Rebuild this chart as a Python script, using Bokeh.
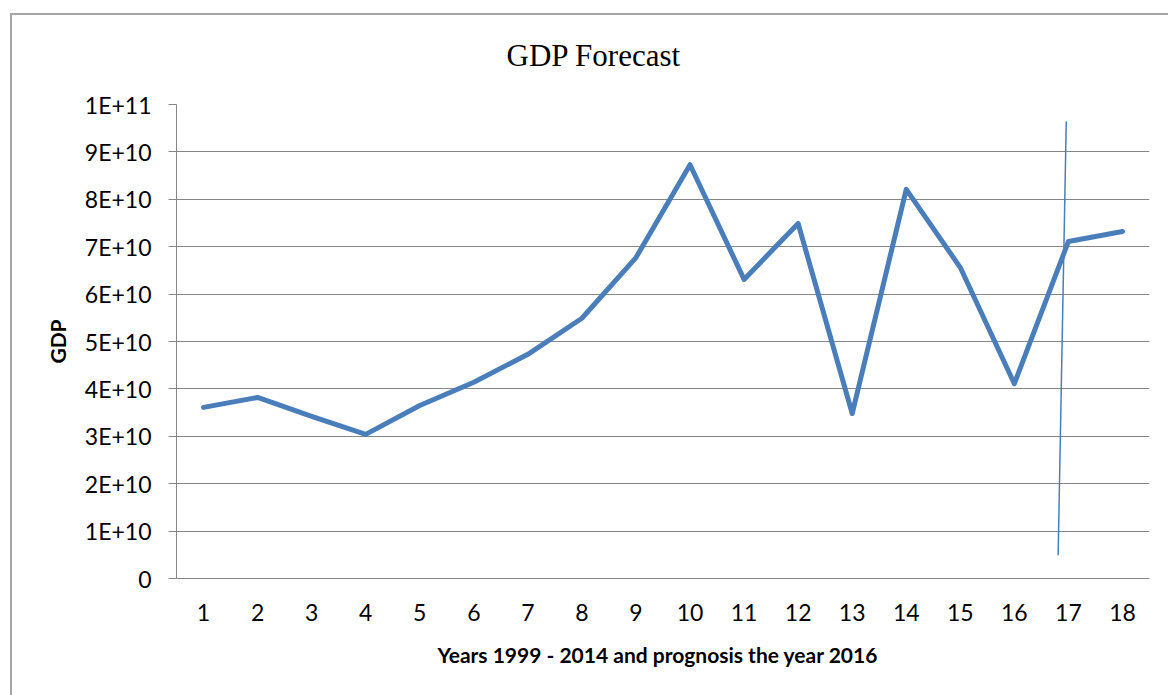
from bokeh.plotting import figure
from bokeh.models import FixedTicker, Range1d, ColumnDataSource
from bokeh.embed import file_html
from bokeh.resources import INLINE

# ---- data ----
years_idx = list(range(1, 19))
gdp = [3.61e10, 3.82e10, 3.42e10, 3.04e10, 3.65e10, 4.14e10, 4.73e10, 5.49e10, 6.77e10,
       8.73e10, 6.31e10, 7.49e10, 3.48e10, 8.21e10, 6.56e10, 4.11e10, 7.11e10, 7.32e10]
marker_x = [16.81, 16.96]
marker_y = [0.49e10, 9.64e10]
y_ticks = [0, 1e10, 2e10, 3e10, 4e10, 5e10, 6e10, 7e10, 8e10, 9e10, 1e11]
y_tick_labels = ["0", "1E+10", "2E+10", "3E+10", "4E+10", "5E+10", "6E+10", "7E+10",
                 "8E+10", "9E+10", "1E+11"]
x_tick_labels = [str(i) for i in years_idx]

LINE = "#4A7EBB"
GRID = "#868686"
FRAME = "#a6a6a6"
TICK_FONT = "Lato"

p = figure(width=1168, height=695, output_backend="svg", toolbar_location=None,
           x_range=Range1d(0.5, 18.5), y_range=Range1d(0, 1e11),
           min_border_left=176, min_border_top=104, min_border_right=19, min_border_bottom=117,
           title="GDP Forecast")
# chart-area frame (top and left edges visible) painted behind a transparent canvas border
p.styles = {"background": (f"linear-gradient({FRAME}, {FRAME}) 10px 13px / 1158px 2px no-repeat, "
                           f"linear-gradient({FRAME}, {FRAME}) 10px 13px / 2px 682px no-repeat, white")}
p.outline_line_color = None
p.background_fill_color = "white"
p.border_fill_alpha = 0

p.title.text_font = "Liberation Serif"
p.title.text_font_size = "31px"
p.title.text_font_style = "normal"
p.title.text_color = "black"
p.title.align = "left"
p.title.offset = 330
p.title.standoff = 63

# y axis
p.yaxis.ticker = FixedTicker(ticks=y_ticks)
p.yaxis.major_label_overrides = {int(v): lab for v, lab in zip(y_ticks, y_tick_labels)}
p.yaxis.minor_tick_line_color = None
p.yaxis.major_tick_out = 8
p.yaxis.major_tick_in = 0
p.yaxis.major_tick_line_color = GRID
p.yaxis.axis_line_color = GRID
p.yaxis.major_label_text_font = TICK_FONT
p.yaxis.major_label_text_font_size = "23px"
p.yaxis.major_label_text_color = "black"
p.yaxis.major_label_standoff = 17
p.yaxis.axis_label = "GDP"
p.yaxis.axis_label_text_font = TICK_FONT
p.yaxis.axis_label_text_font_size = "21px"
p.yaxis.axis_label_text_font_style = "bold"
p.yaxis.axis_label_text_color = "black"
p.yaxis.axis_label_standoff = 12

# x axis
p.xaxis.ticker = FixedTicker(ticks=years_idx)
p.xaxis.major_label_overrides = {i: lab for i, lab in zip(years_idx, x_tick_labels)}
p.xaxis.minor_tick_line_color = None
p.xaxis.major_tick_line_color = None
p.xaxis.major_tick_out = 0
p.xaxis.major_tick_in = 0
p.xaxis.axis_line_color = GRID
p.xaxis.major_label_text_font = TICK_FONT
p.xaxis.major_label_text_font_size = "23px"
p.xaxis.major_label_text_color = "black"
p.xaxis.major_label_standoff = 25
p.xaxis.axis_label = "Years 1999 - 2014 and prognosis  the  year 2016"
p.xaxis.axis_label_text_font = TICK_FONT
p.xaxis.axis_label_text_font_size = "21px"
p.xaxis.axis_label_text_font_style = "bold"
p.xaxis.axis_label_text_color = "black"
p.xaxis.axis_label_standoff = 18

p.xgrid.grid_line_color = None
p.ygrid.grid_line_color = GRID
p.ygrid.grid_line_width = 1

src = ColumnDataSource(dict(x=years_idx, y=gdp))
p.line("x", "y", source=src, line_color=LINE, line_width=5, line_join="round", line_cap="round")
p.line(marker_x, marker_y, line_color=LINE, line_width=1.5)

open("out.html", "w").write(file_html(p, INLINE))
